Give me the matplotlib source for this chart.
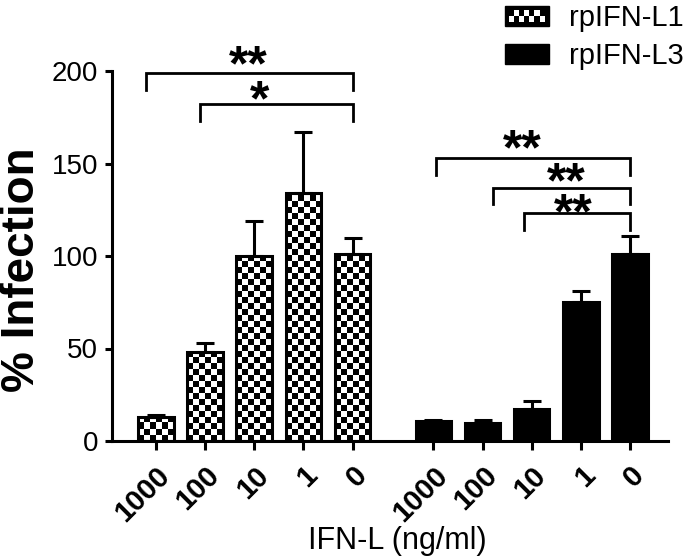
import numpy as np
import matplotlib
matplotlib.use('Agg')
import matplotlib.pyplot as plt
from matplotlib.patches import Rectangle
from matplotlib.legend_handler import HandlerBase

plt.rcParams['font.family'] = ['Liberation Sans', 'DejaVu Sans']

# data
doses = ['1000', '100', '10', '1', '0']
l1_mean = [13, 48, 100, 134, 101]
l1_err = [1, 5, 19, 33, 9]
l3_mean = [11, 10, 17.5, 75, 101]
l3_err = [0.5, 1.4, 4.2, 6.3, 10]

# significance brackets: (left, right, height, star x, star y, label), in bar-index units per group
sig_l1 = [(-0.2, 4, 199, 1.87, 207.5, '**'),
          (0.89, 4, 182, 2.1, 188.5, '*')]
sig_l3 = [(0.06, 4, 153, 1.8, 162, '**'),
          (1.22, 4, 137, 2.7, 144.5, '**'),
          (1.85, 4, 123, 2.85, 127.5, '**')]

group_gap = 5.64
x1 = np.arange(len(doses))
x2 = np.arange(len(doses)) + group_gap

fig = plt.figure(figsize=(6.93, 5.57), dpi=100)
ax = fig.add_axes([112 / 693, 1 - 441 / 557, (668 - 112) / 693, (441 - 71) / 557])
xlim = (-0.89, 10.41)
ylim = (0, 200)

lw = 2.2
bar_w = 0.72

bars1 = ax.bar(x1, l1_mean, width=bar_w, facecolor='none', edgecolor='black',
               linewidth=lw, zorder=3)
bars2 = ax.bar(x2, l3_mean, width=bar_w, facecolor='black', edgecolor='black',
               linewidth=lw, zorder=3)

# checkerboard fill for rpIFN-L1 bars
yppu = (441 - 71) / (ylim[1] - ylim[0])
cell = 6.0 / yppu
for b in bars1:
    x0, w, h = b.get_x(), b.get_width(), b.get_height()
    nrow = int(np.ceil(h / cell))
    board = np.indices((nrow, 6)).sum(axis=0) % 2
    im = ax.imshow(board, cmap='gray', vmin=0, vmax=1, extent=(x0, x0 + w, 0, nrow * cell),
                   origin='lower', interpolation='nearest', aspect='auto', zorder=2.5)
    im.set_clip_path(b)

ax.errorbar(x1, l1_mean, yerr=[np.zeros(5), l1_err], fmt='none', ecolor='black',
            elinewidth=lw, capsize=6.5, capthick=lw, zorder=4)
ax.errorbar(x2, l3_mean, yerr=[np.zeros(5), l3_err], fmt='none', ecolor='black',
            elinewidth=lw, capsize=6.5, capthick=lw, zorder=4)

# brackets and stars
star_fs = 36
for offset, sigs in [(0, sig_l1), (group_gap, sig_l3)]:
    for left, right, h, sx, sy, lab in sigs:
        drop = 9
        ax.plot([offset + left, offset + left, offset + right, offset + right],
                [h - drop, h, h, h - drop], color='black', lw=2.0, clip_on=False,
                solid_joinstyle='miter')
        ax.annotate(lab, xy=(offset + sx, sy), xytext=(0, -0.47 * star_fs),
                    textcoords='offset points', ha='center', va='baseline',
                    fontsize=star_fs, fontweight='bold', annotation_clip=False)

ax.set_xlim(xlim)
ax.set_ylim(ylim)

for s in ['top', 'right']:
    ax.spines[s].set_visible(False)
for s in ['left', 'bottom']:
    ax.spines[s].set_linewidth(lw)

ax.set_yticks([0, 50, 100, 150, 200])
ax.tick_params(axis='y', length=5, width=lw, labelsize=20, pad=5)
ax.set_xticks(np.concatenate([x1, x2]))
ax.set_xticklabels(doses + doses, rotation=45, ha='right', rotation_mode='anchor',
                   fontweight='bold')
ax.tick_params(axis='x', length=6.5, width=lw, labelsize=21, pad=8)

ax.set_ylabel('% Infection', fontsize=33, fontweight='bold', va='center')
ax.yaxis.set_label_coords(-0.162, 0.462)
ax.set_xlabel('IFN-L (ng/ml)', fontsize=22, va='center')
ax.xaxis.set_label_coords(0.514, -0.27)


class CheckerHandler(HandlerBase):
    def create_artists(self, legend, orig_handle, xdescent, ydescent, width, height,
                       fontsize, trans):
        arts = [Rectangle((-xdescent, -ydescent), width, height, facecolor='black',
                          edgecolor='black', transform=trans)]
        b = 3.0
        ncol, nrow = 7, 2
        cw = (width - 2 * b) / ncol
        ch = (height - 2 * b) / nrow
        for r in range(nrow):
            for c in range(ncol):
                if (r + c) % 2 == 0:
                    arts.append(Rectangle((-xdescent + b + c * cw, -ydescent + b + r * ch),
                                          cw, ch, facecolor='white', edgecolor='none',
                                          transform=trans))
        return arts


h1 = Rectangle((0, 0), 1, 1)
h2 = Rectangle((0, 0), 1, 1, facecolor='black', edgecolor='black')
leg = fig.legend([h1, h2], ['rpIFN-L1', 'rpIFN-L3'], loc='upper left',
                 bbox_to_anchor=(505 / 693, 1 - 4 / 557), frameon=False, fontsize=21,
                 handlelength=1.5, handleheight=0.7, handletextpad=0.7, labelspacing=0.35,
                 borderpad=0, borderaxespad=0, handler_map={h1: CheckerHandler()})

fig.savefig('out.png', dpi=100)
